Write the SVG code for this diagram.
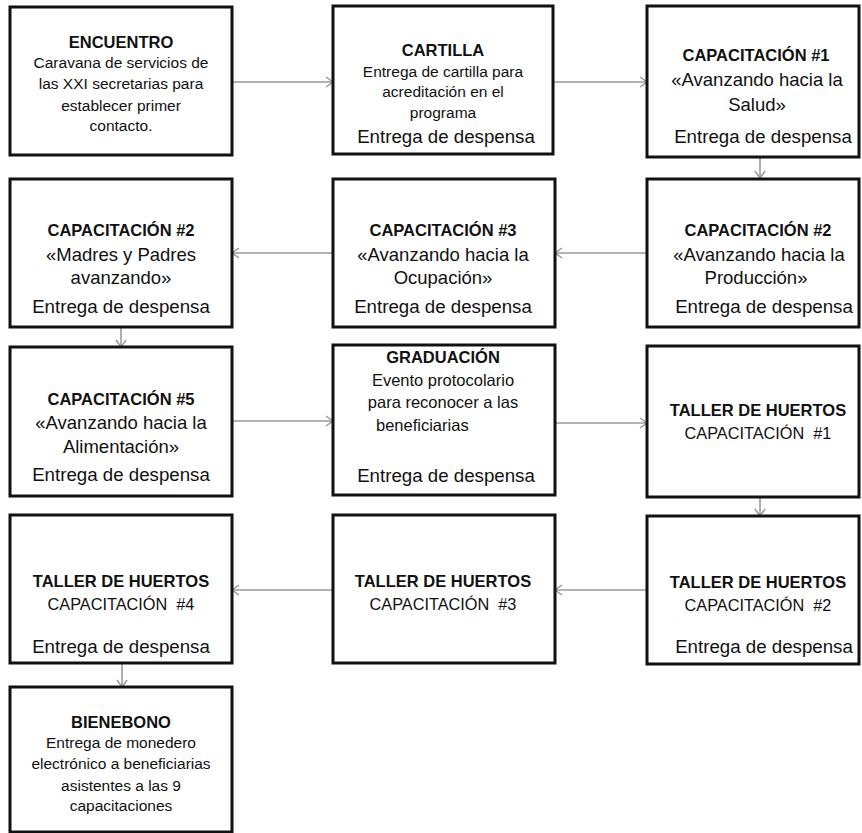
<svg xmlns="http://www.w3.org/2000/svg" width="862" height="833" viewBox="0 0 862 833">
<style>
.box{fill:#fff;stroke:#111;stroke-width:3}
text{font-family:"Liberation Sans",Arial,sans-serif;fill:#111;text-anchor:middle}
.t{font-weight:bold;font-size:16.5px}
.s{font-size:15.5px}
.q{font-size:18.5px}
.d{font-size:18.7px}
.c{font-size:16.3px;white-space:pre}
.conn{stroke:#9a9a9a;stroke-width:1.6;fill:none}
</style>
<defs>
<marker id="ah" markerWidth="10" markerHeight="12" refX="9" refY="6" orient="auto" markerUnits="userSpaceOnUse">
<path d="M2,1 L9,6 L2,11" fill="none" stroke="#9a9a9a" stroke-width="1.5"/>
</marker>
</defs>
<rect width="862" height="833" fill="#fff"/>
<g id="connectors">
<line class="conn" x1="232" y1="82" x2="333" y2="82" marker-end="url(#ah)"/>
<line class="conn" x1="553" y1="82" x2="647" y2="82" marker-end="url(#ah)"/>
<line class="conn" x1="760" y1="157" x2="760" y2="178" marker-end="url(#ah)"/>
<line class="conn" x1="647" y1="253" x2="555" y2="253" marker-end="url(#ah)"/>
<line class="conn" x1="333" y1="253" x2="232" y2="253" marker-end="url(#ah)"/>
<line class="conn" x1="121" y1="327" x2="121" y2="347" marker-end="url(#ah)"/>
<line class="conn" x1="232" y1="421" x2="333" y2="421" marker-end="url(#ah)"/>
<line class="conn" x1="555" y1="423" x2="647" y2="423" marker-end="url(#ah)"/>
<line class="conn" x1="760" y1="497" x2="760" y2="516" marker-end="url(#ah)"/>
<line class="conn" x1="647" y1="590" x2="555" y2="590" marker-end="url(#ah)"/>
<line class="conn" x1="333" y1="590" x2="232" y2="590" marker-end="url(#ah)"/>
<line class="conn" x1="122" y1="663" x2="122" y2="687" marker-end="url(#ah)"/>
</g>
<g id="encuentro">
<rect class="box" x="10" y="7" width="222" height="148"/>
<text class="t" x="121" y="48">ENCUENTRO</text>
<text class="s" x="121" y="68">Caravana de servicios de</text>
<text class="s" x="121" y="89">las XXI secretarias para</text>
<text class="s" x="121" y="111">establecer primer</text>
<text class="s" x="121" y="131">contacto.</text>
</g>
<g id="cartilla">
<rect class="box" x="333" y="6" width="220" height="148"/>
<text class="t" x="443" y="56">CARTILLA</text>
<text class="s" x="443" y="77">Entrega de cartilla para</text>
<text class="s" x="443" y="97">acreditación en el</text>
<text class="s" x="443" y="118">programa</text>
<text class="d" x="446" y="143">Entrega de despensa</text>
</g>
<g id="cap1">
<rect class="box" x="647" y="6" width="212" height="151"/>
<text class="t" x="756" y="61">CAPACITACIÓN #1</text>
<text class="q" x="757" y="86">«Avanzando hacia la</text>
<text class="q" x="757" y="111">Salud»</text>
<text class="d" x="763" y="143">Entrega de despensa</text>
</g>
<g id="cap2-madres">
<rect class="box" x="10" y="179" width="222" height="148"/>
<text class="t" x="121" y="236">CAPACITACIÓN #2</text>
<text class="q" x="121" y="261">«Madres y Padres</text>
<text class="q" x="121" y="284">avanzando»</text>
<text class="d" x="121" y="313">Entrega de despensa</text>
</g>
<g id="cap3-ocupacion">
<rect class="box" x="333" y="179" width="222" height="148"/>
<text class="t" x="443" y="236">CAPACITACIÓN #3</text>
<text class="q" x="443" y="261">«Avanzando hacia la</text>
<text class="q" x="443" y="284">Ocupación»</text>
<text class="d" x="443" y="313">Entrega de despensa</text>
</g>
<g id="cap2-produccion">
<rect class="box" x="647" y="179" width="212" height="148"/>
<text class="t" x="758" y="236">CAPACITACIÓN #2</text>
<text class="q" x="759" y="261">«Avanzando hacia la</text>
<text class="q" x="756" y="284">Producción»</text>
<text class="d" x="764" y="313">Entrega de despensa</text>
</g>
<g id="cap5">
<rect class="box" x="10" y="347" width="222" height="149"/>
<text class="t" x="121" y="405">CAPACITACIÓN #5</text>
<text class="q" x="121" y="429">«Avanzando hacia la</text>
<text class="q" x="121" y="453">Alimentación»</text>
<text class="d" x="121" y="481">Entrega de despensa</text>
</g>
<g id="graduacion">
<rect class="box" x="333" y="345" width="222" height="150"/>
<text class="t" x="443" y="363">GRADUACIÓN</text>
<text class="s" x="443" y="386" style="font-size:16.5px">Evento protocolario</text>
<text class="s" x="443" y="408" style="font-size:16.5px">para reconocer a las</text>
<text class="s" x="376" y="431" style="font-size:16.5px;text-anchor:start">beneficiarias</text>
<text class="d" x="446" y="482">Entrega de despensa</text>
</g>
<g id="huertos1">
<rect class="box" x="647" y="346" width="212" height="151"/>
<text class="t" x="758" y="416">TALLER DE HUERTOS</text>
<text class="c" x="758" y="439">CAPACITACIÓN  #1</text>
</g>
<g id="huertos4">
<rect class="box" x="10" y="515" width="222" height="148"/>
<text class="t" x="121" y="587">TALLER DE HUERTOS</text>
<text class="c" x="121" y="610">CAPACITACIÓN  #4</text>
<text class="d" x="121" y="653">Entrega de despensa</text>
</g>
<g id="huertos3">
<rect class="box" x="333" y="515" width="222" height="148"/>
<text class="t" x="443" y="587">TALLER DE HUERTOS</text>
<text class="c" x="443" y="610">CAPACITACIÓN  #3</text>
</g>
<g id="huertos2">
<rect class="box" x="647" y="516" width="212" height="148"/>
<text class="t" x="758" y="588">TALLER DE HUERTOS</text>
<text class="c" x="758" y="611">CAPACITACIÓN  #2</text>
<text class="d" x="764" y="653">Entrega de despensa</text>
</g>
<g id="bienebono">
<rect class="box" x="10" y="687" width="222" height="145"/>
<text class="t" x="121" y="728">BIENEBONO</text>
<text class="s" x="121" y="748">Entrega de monedero</text>
<text class="s" x="121" y="769">electrónico a beneficiarias</text>
<text class="s" x="121" y="791">asistentes a las 9</text>
<text class="s" x="121" y="811">capacitaciones</text>
</g>
</svg>
